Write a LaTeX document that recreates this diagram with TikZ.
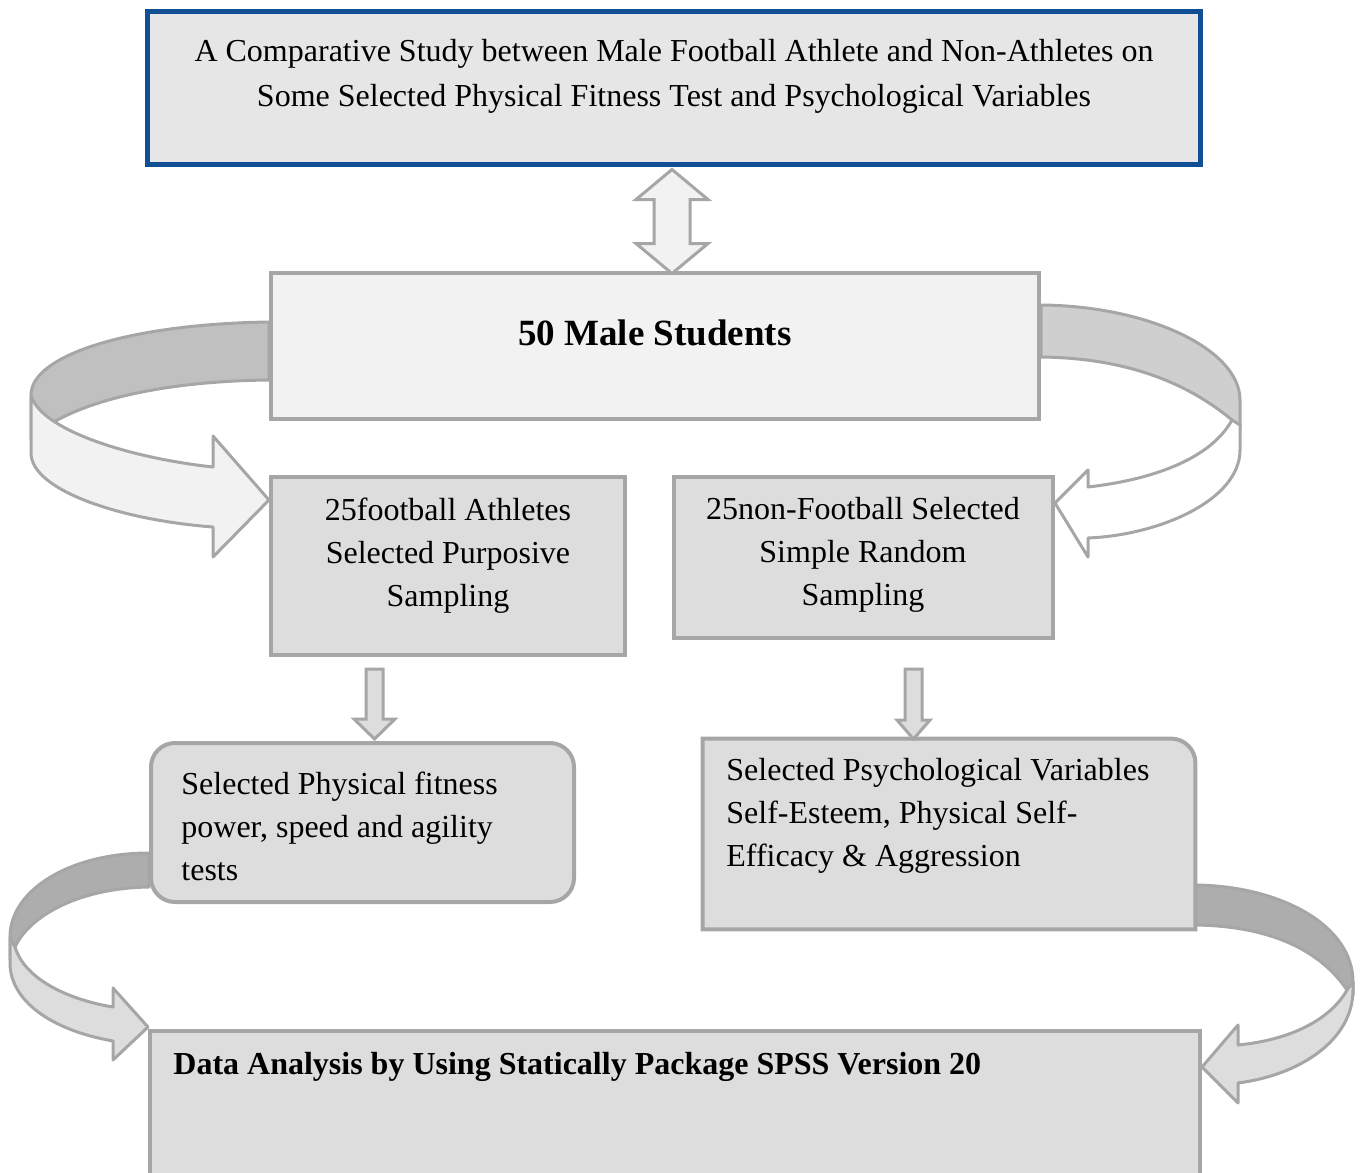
\documentclass[tikz,border=0pt]{standalone}
\usepackage{fontspec}
\setmainfont{Liberation Serif}
\usepackage{xcolor}
\usetikzlibrary{positioning,calc,backgrounds}

\definecolor{frameblue}{RGB}{16,79,148}
\definecolor{edgegray}{RGB}{166,166,166}
\definecolor{boxgray}{RGB}{221,221,221}
\definecolor{titlegray}{RGB}{230,230,230}
\definecolor{palegray}{RGB}{242,242,242}
\definecolor{bandgray}{RGB}{192,192,192}
\definecolor{bandlight}{RGB}{207,207,207}
\definecolor{banddark}{RGB}{173,173,173}

\begin{document}
\begin{tikzpicture}[x=0.5pt, y=-0.5pt,
  box/.style={draw=edgegray, line width=2pt, fill=boxgray, inner sep=0pt},
  txt/.style={inner sep=0pt, font=\fontsize{16}{21.5}\selectfont},
  blockarr/.style={draw=edgegray, line width=1.5pt, fill=boxgray},
  band/.style={draw=edgegray, line width=1.5pt, line join=round}]
\useasboundingbox (0,0) rectangle (1362,1173);

% boxes
\node[box, draw=frameblue, line width=2.5pt, fill=titlegray, minimum width=526.5pt, minimum height=76.5pt] (title) at (673.5,87.5) {};
\node[box, fill=palegray, minimum width=384pt, minimum height=73pt] (stud) at (655,346) {};
\node[box, minimum width=177pt, minimum height=89pt] (athl) at (448,566) {};
\node[box, minimum width=189.5pt, minimum height=80.5pt] (nonath) at (863.5,557.5) {};
\node[box, rounded corners=12pt, minimum width=211.5pt, minimum height=79.5pt] (phys) at (362.5,822.5) {};
\node[inner sep=0pt, minimum width=246pt, minimum height=95pt] (psych) at (949,834) {};
\draw[box] (psych.south west) -- (psych.north west) -- ($(psych.north east)+(-24,0)$)
  .. controls ($(psych.north east)+(-11,0)$) and ($(psych.north east)+(0,11)$) .. ($(psych.north east)+(0,24)$)
  -- (psych.south east) -- cycle;
\node[box, minimum width=525pt, minimum height=84.5pt] (analysis) at (675,1115.5) {};

% texts
\node[txt, align=center, font=\fontsize{16}{22.5}\selectfont] (titletxt) at (674,76)
  {A Comparative Study between Male Football Athlete and Non-Athletes on\\Some Selected Physical Fitness Test and Psychological Variables};
\node[txt, font=\fontsize{18.5}{22}\selectfont\bfseries] (studtxt) at (655,333) {50 Male Students};
\node[txt, align=center] (athltxt) at (448,556) {25football Athletes\\Selected Purposive\\Sampling};
\node[txt, align=center] (nonathtxt) at (863,555) {25non-Football Selected\\Simple Random\\Sampling};
\node[txt, align=left, anchor=west] (phystxt) at (181,826) {Selected Physical fitness\\power, speed and agility\\tests};
\node[txt, align=left, anchor=west] (psychtxt) at (726,816) {Selected Psychological Variables\\Self-Esteem, Physical Self-\\Efficacy \& Aggression};
\node[txt, anchor=west, font=\fontsize{16}{21.5}\selectfont\bfseries] (analysistxt) at (173,1067) {Data Analysis by Using Statically Package SPSS Version 20};

% block arrows
\draw[blockarr, fill=palegray] ($(title.south)+(-1.5,3)$) -- ++(36,30) -- ++(-18,0) -- ++(0,44) -- ++(18,0)
  -- ++(-36,30) -- ++(-36,-30) -- ++(18,0) -- ++(0,-44) -- ++(-18,0) -- cycle;
\draw[blockarr] ($(athl.south)+(-82,12)$) -- ++(17,0) -- ++(0,50) -- ++(12,0) -- ++(-20.5,20)
  -- ++(-20.5,-20) -- ++(12,0) -- cycle;
\draw[blockarr] ($(nonath.south)+(41.5,29)$) -- ++(17,0) -- ++(0,51) -- ++(8,0) -- ++(-16.5,19)
  -- ++(-16.5,-19) -- ++(8,0) -- cycle;

% curved arrows
\begin{scope}[on background layer]
\draw[band, fill=bandgray] (stud.west |- 0,322) .. controls (130,324) and (31,355) .. (31,395) -- (31,440) -- (52,423)
  .. controls (100,395) and (180,381) .. (stud.west |- 0,380) -- cycle;
\draw[band, fill=palegray] (31,395) .. controls (40,430) and (130,458) .. (213,467) -- (213,436) -- (athl.west |- 0,500)
  -- (213,557) -- (213,527) .. controls (120,520) and (31,490) .. (31,453) -- cycle;

\draw[band, fill=bandlight] (stud.east |- 0,305) .. controls (1150,306) and (1240,350) .. (1240,400) -- (1240,428) -- (1232,420)
  .. controls (1190,385) and (1130,358) .. (stud.east |- 0,357) -- cycle;
\draw[band, fill=white] (1232,420) .. controls (1210,460) and (1150,480) .. (1088,487) -- (1088,470) -- (nonath.east |- 0,503)
  -- (1088,557) -- (1088,538) .. controls (1160,535) and (1240,500) .. (1240,450) -- (1240,425) -- cycle;

\draw[band, fill=banddark] (phys.west |- 0,853) .. controls (70,853) and (10,890) .. (10,937) -- (10,960) -- (15,947)
  .. controls (30,915) and (80,888) .. (phys.west |- 0,887) -- cycle;
\draw[band, fill=boxgray] (15,947) .. controls (25,980) and (70,1000) .. (113,1007) -- (113,988) -- (analysis.west |- 0,1027)
  -- (113,1060) -- (113,1041) .. controls (50,1030) and (10,1000) .. (10,963) -- (10,937) -- cycle;

\draw[band, fill=banddark] (psych.east |- 0,885) .. controls (1280,886) and (1353,925) .. (1353,982) -- (1353,995) -- (1347,990)
  .. controls (1320,950) and (1270,926) .. (psych.east |- 0,925) -- cycle;
\draw[band, fill=boxgray] (1347,990) .. controls (1330,1020) and (1290,1040) .. (1238,1045) -- (1238,1025) -- (analysis.east |- 0,1067)
  -- (1238,1103) -- (1238,1083) .. controls (1300,1075) and (1353,1040) .. (1353,990) -- (1353,982) -- cycle;
\end{scope}
\end{tikzpicture}
\end{document}
